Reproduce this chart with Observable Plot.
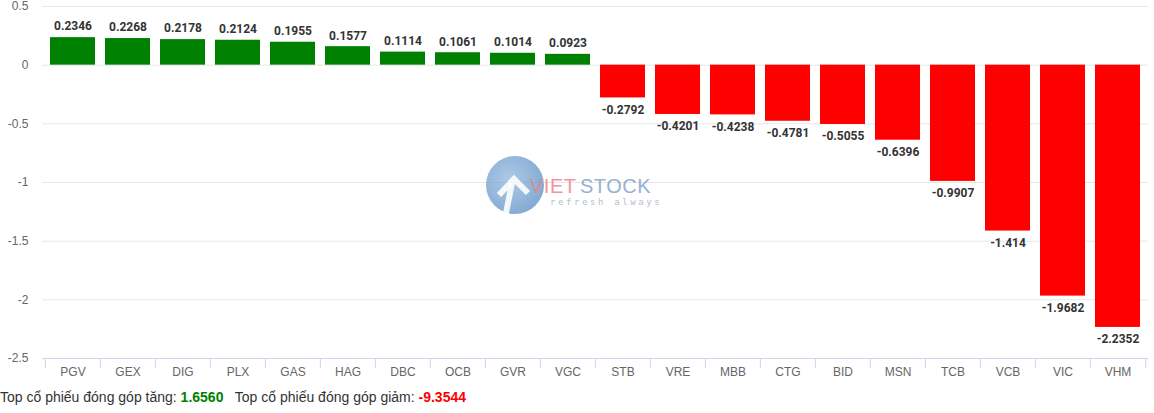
<!DOCTYPE html>
<html><head><meta charset="utf-8">
<script src="https://cdn.jsdelivr.net/npm/d3@7"></script>
<script src="https://cdn.jsdelivr.net/npm/@observablehq/plot@0.6"></script>
<style>
body{margin:0;background:#fff;font-family:"Liberation Sans",Arial,sans-serif;}
#wrap{position:relative;width:1154px;}
#logo{position:absolute;left:484px;top:153px;pointer-events:none;opacity:0.85}
#cap{font-size:14px;color:#333;margin-top:3px;white-space:pre;}
#cap b.up{color:#008000}
#cap b.dn{color:#ff0000}
</style></head><body>
<div id="wrap"><div id="chart"></div>
<svg id="logo" width="190" height="64" viewBox="0 0 190 64">
  <defs><radialGradient id="g" cx="40%" cy="40%" r="70%"><stop offset="0" stop-color="#8fb6dc"/><stop offset="1" stop-color="#4f86c0"/></radialGradient></defs>
  <circle cx="31" cy="32" r="29" fill="url(#g)" opacity="0.85"/>
  <path d="M15 42 L30 26 L44 40" stroke="#fff" stroke-width="6" fill="none" opacity="0.9"/>
  <path d="M28 30 L22 60" stroke="#fff" stroke-width="6" opacity="0.9"/>
  <text x="46" y="40" font-family="Liberation Sans,Arial" font-size="20" letter-spacing="0.5" fill="#e8707a" opacity="0.85">VIET</text>
  <text x="96" y="40" font-family="Liberation Sans,Arial" font-size="20" letter-spacing="0.5" fill="#6f93c4" opacity="0.85">STOCK</text>
  <text x="66" y="52" font-family="DejaVu Sans Mono,monospace" font-size="9" letter-spacing="2.6" fill="#aab4c0">refresh always</text>
</svg>
<div id="cap">Top cổ phiếu đóng góp tăng: <b class="up">1.6560</b>   Top cổ phiếu đóng góp giảm: <b class="dn">-9.3544</b></div>
</div>
<script>
const tickers = ["PGV","GEX","DIG","PLX","GAS","HAG","DBC","OCB","GVR","VGC","STB","VRE","MBB","CTG","BID","MSN","TCB","VCB","VIC","VHM"];
const values = [0.2346,0.2268,0.2178,0.2124,0.1955,0.1577,0.1114,0.1061,0.1014,0.0923,-0.2792,-0.4201,-0.4238,-0.4781,-0.5055,-0.6396,-0.9907,-1.414,-1.9682,-2.2352];
const labels = ["0.2346","0.2268","0.2178","0.2124","0.1955","0.1577","0.1114","0.1061","0.1014","0.0923","-0.2792","-0.4201","-0.4238","-0.4781","-0.5055","-0.6396","-0.9907","-1.414","-1.9682","-2.2352"];
const yTicks = [0.5,0,-0.5,-1,-1.5,-2,-2.5];

const data = tickers.map((t,i)=>({t, v:values[i], label:labels[i]}));
const pos = data.filter(d=>d.v>=0), neg = data.filter(d=>d.v<0);

const W=1154, mL=42, mR=6;
const step = (W-mL-mR)/tickers.length;

const chart = Plot.plot({
  width: W, height: 386,
  marginLeft: mL, marginRight: mR, marginTop: 6, marginBottom: 28,
  style:{fontFamily:"Liberation Sans, Arial, sans-serif", fontSize:"12px", color:"#666", background:"#fff"},
  x:{domain:tickers, paddingInner:0.18, paddingOuter:0.09, label:null},
  y:{domain:[-2.5,0.5], label:null},
  marks:[
    Plot.gridY(yTicks, {stroke:"#e6e6e6", strokeOpacity:1}),
    Plot.axisY(yTicks, {tickSize:0, tickPadding:14, tickFormat:d=>String(d), fill:"#666", fontSize:12}),
    Plot.barY(data, {x:"t", y:"v", fill:d=>d.v>=0?"#008000":"#ff0000"}),
    Plot.ruleY([-2.5], {stroke:"#ccd6eb"}),
    Plot.ruleX(tickers, {x:d=>d, y1:-2.5, y2:-2.5, dx:-step/2, insetBottom:-10, stroke:"#ccd6eb"}),
    Plot.ruleX([tickers[tickers.length-1]], {x:d=>d, y1:-2.5, y2:-2.5, dx:step/2, insetBottom:-10, stroke:"#ccd6eb"}),
    Plot.axisX({tickSize:0, tickPadding:9, fill:"#666", fontSize:12}),
    Plot.text(pos, {x:"t", y:"v", text:"label", dy:-11, fill:"#333", fontWeight:"bold", fontSize:12, fontFamily:"Roboto"}),
    Plot.text(neg, {x:"t", y:"v", text:"label", dy:12, fill:"#333", fontWeight:"bold", fontSize:12, fontFamily:"Roboto"})
  ]
});
document.getElementById("chart").appendChild(chart);
</script>
</body></html>
